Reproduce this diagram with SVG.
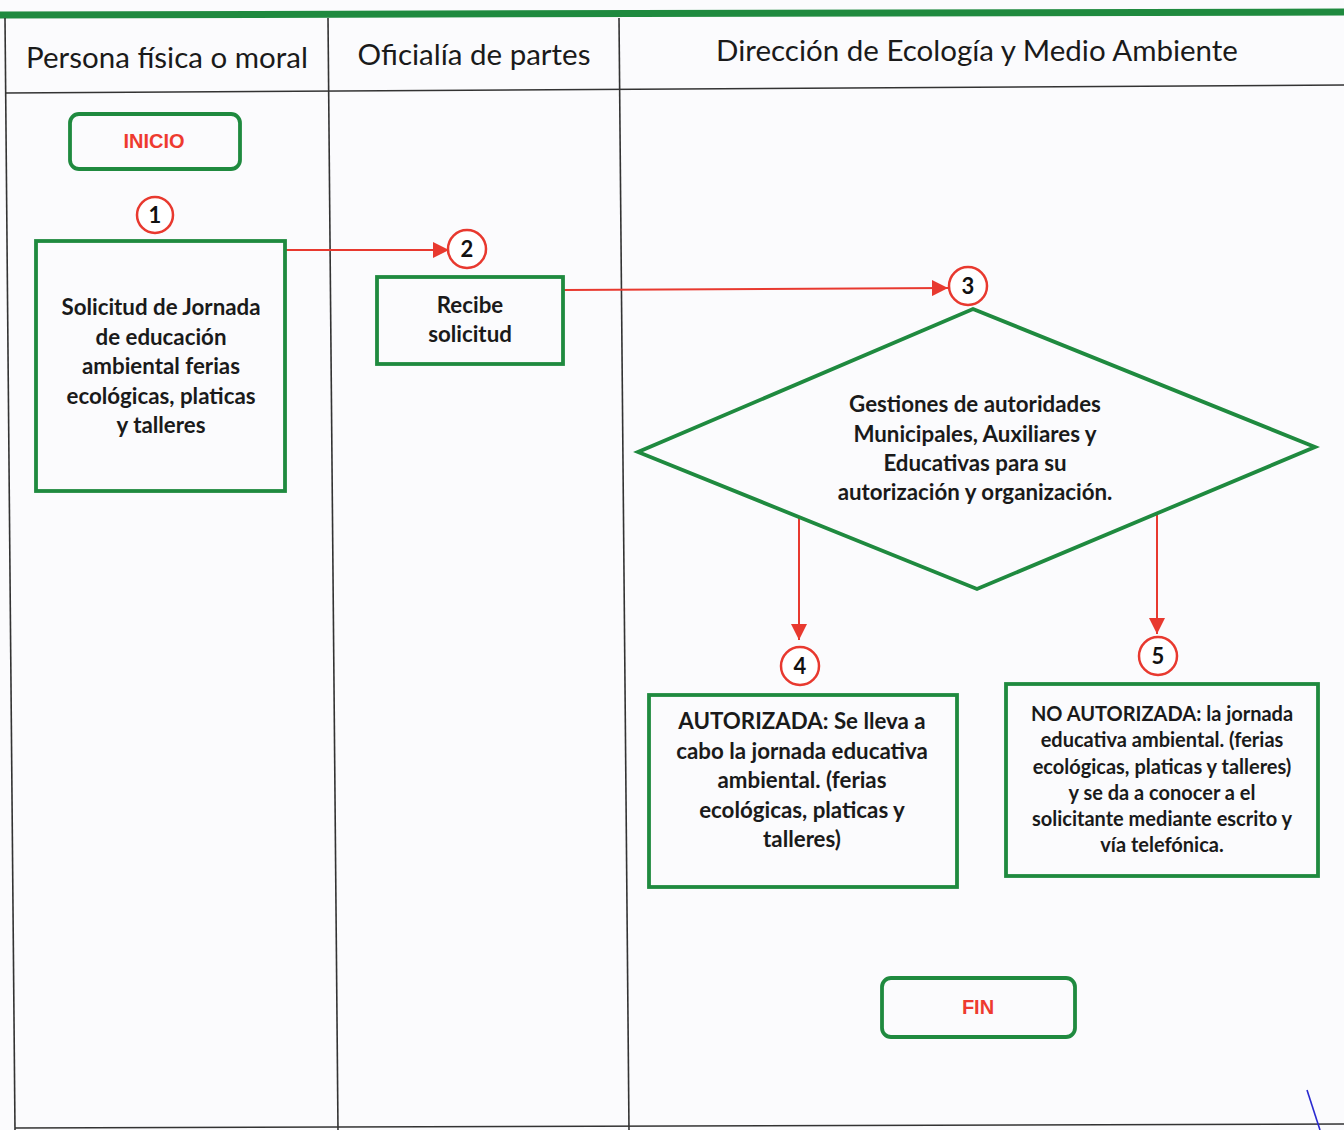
<svg xmlns="http://www.w3.org/2000/svg" width="1344" height="1130" viewBox="0 0 1344 1130">
<defs>
<style>
.lane{stroke:#333;stroke-width:1.6;fill:none}
.box{fill:none;stroke:#1f8a3f;stroke-width:3.8}
.num{fill:#fff;stroke:#e8392f;stroke-width:2.5}
.numt{font-family:Lato,"Liberation Sans",sans-serif;font-weight:700;font-size:22px;fill:#111;text-anchor:middle}
.hdr{font-family:Lato,"Liberation Sans",sans-serif;font-size:29.5px;fill:#1a1a1a;text-anchor:middle}
.t{font-family:Lato,"Liberation Sans",sans-serif;font-weight:700;font-size:22.3px;fill:#1a1a1a;text-anchor:middle}
.t5{font-family:Lato,"Liberation Sans",sans-serif;font-weight:700;font-size:20px;fill:#1a1a1a;text-anchor:middle}
.term{font-family:"Liberation Sans",Arial,sans-serif;font-weight:700;font-size:20px;fill:#ee3a2f;text-anchor:middle}
.conn{stroke:#e8392f;stroke-width:2;fill:none}
</style>
<marker id="ahb" viewBox="0 0 10 10" refX="10" refY="5" markerWidth="16" markerHeight="16" orient="auto" markerUnits="userSpaceOnUse">
<path d="M0,0 L10,5 L0,10 z" fill="#e8392f"/>
</marker>
</defs>
<rect x="0" y="0" width="1344" height="1130" fill="#fbfbfd"/>
<g id="table">
<path d="M0,15 L1344,12" stroke="#1f8a3f" stroke-width="7"/>
<path class="lane" d="M5,18 L15,1130"/>
<path class="lane" d="M328,18 L338,1130"/>
<path class="lane" d="M619,18 L629,1130"/>
<path class="lane" d="M5,93 L1344,85"/>
<path class="lane" d="M15,1128 L1344,1124"/>
<text class="hdr" x="167" y="68">Persona física o moral</text>
<text class="hdr" x="474" y="65">Oficialía de partes</text>
<text class="hdr" x="977" y="61">Dirección de Ecología y Medio Ambiente</text>
</g>
<g id="connectors">
<path class="conn" d="M286,250 L449,250" marker-end="url(#ahb)"/>
<path class="conn" d="M564,290 L948,288" marker-end="url(#ahb)"/>
<path class="conn" d="M799,518 L799,640" marker-end="url(#ahb)"/>
<path class="conn" d="M1157,513 L1157,634" marker-end="url(#ahb)"/>
</g>
<g id="inicio">
<rect class="box" x="70" y="114" width="170" height="55" rx="9"/>
<text class="term" x="154" y="148">INICIO</text>
</g>
<g id="step1">
<circle class="num" cx="155" cy="215" r="18"/>
<text class="numt" x="155" y="223">1</text>
<rect class="box" x="36" y="241" width="249" height="250"/>
<text class="t" x="161" y="315">Solicitud de Jornada</text>
<text class="t" x="161" y="345">de educación</text>
<text class="t" x="161" y="374">ambiental ferias</text>
<text class="t" x="161" y="404">ecológicas, platicas</text>
<text class="t" x="161" y="433">y talleres</text>
</g>
<g id="step2">
<circle class="num" cx="467" cy="249" r="19"/>
<text class="numt" x="467" y="257">2</text>
<rect class="box" x="377" y="277" width="186" height="87"/>
<text class="t" x="470" y="313">Recibe</text>
<text class="t" x="470" y="342">solicitud</text>
</g>
<g id="step3">
<circle class="num" cx="968" cy="286" r="19"/>
<text class="numt" x="968" y="294">3</text>
<polygon class="box" points="973,309 1315,447 977,589 638,452"/>
<text class="t" x="975" y="412">Gestiones de autoridades</text>
<text class="t" x="975" y="442">Municipales, Auxiliares y</text>
<text class="t" x="975" y="471">Educativas para su</text>
<text class="t" x="975" y="500">autorización y organización.</text>
</g>
<g id="step4">
<circle class="num" cx="800" cy="666" r="19"/>
<text class="numt" x="800" y="674">4</text>
<rect class="box" x="649" y="695" width="308" height="192"/>
<text class="t" x="802" y="729">AUTORIZADA: Se lleva a</text>
<text class="t" x="802" y="759">cabo la jornada educativa</text>
<text class="t" x="802" y="788">ambiental. (ferias</text>
<text class="t" x="802" y="818">ecológicas, platicas y</text>
<text class="t" x="802" y="847">talleres)</text>
</g>
<g id="step5">
<circle class="num" cx="1158" cy="656" r="19"/>
<text class="numt" x="1158" y="664">5</text>
<rect class="box" x="1006" y="684" width="312" height="192"/>
<text class="t5" x="1162" y="721">NO AUTORIZADA: la jornada</text>
<text class="t5" x="1162" y="747">educativa ambiental. (ferias</text>
<text class="t5" x="1162" y="774">ecológicas, platicas y talleres)</text>
<text class="t5" x="1162" y="800">y se da a conocer a el</text>
<text class="t5" x="1162" y="826">solicitante mediante escrito y</text>
<text class="t5" x="1162" y="852">vía telefónica.</text>
</g>
<g id="fin">
<rect class="box" x="882" y="978" width="193" height="59" rx="9"/>
<text class="term" x="978" y="1014">FIN</text>
</g>
<path d="M1307,1090 L1320,1130" stroke="#2a2ad0" stroke-width="1.6" fill="none"/>
</svg>
